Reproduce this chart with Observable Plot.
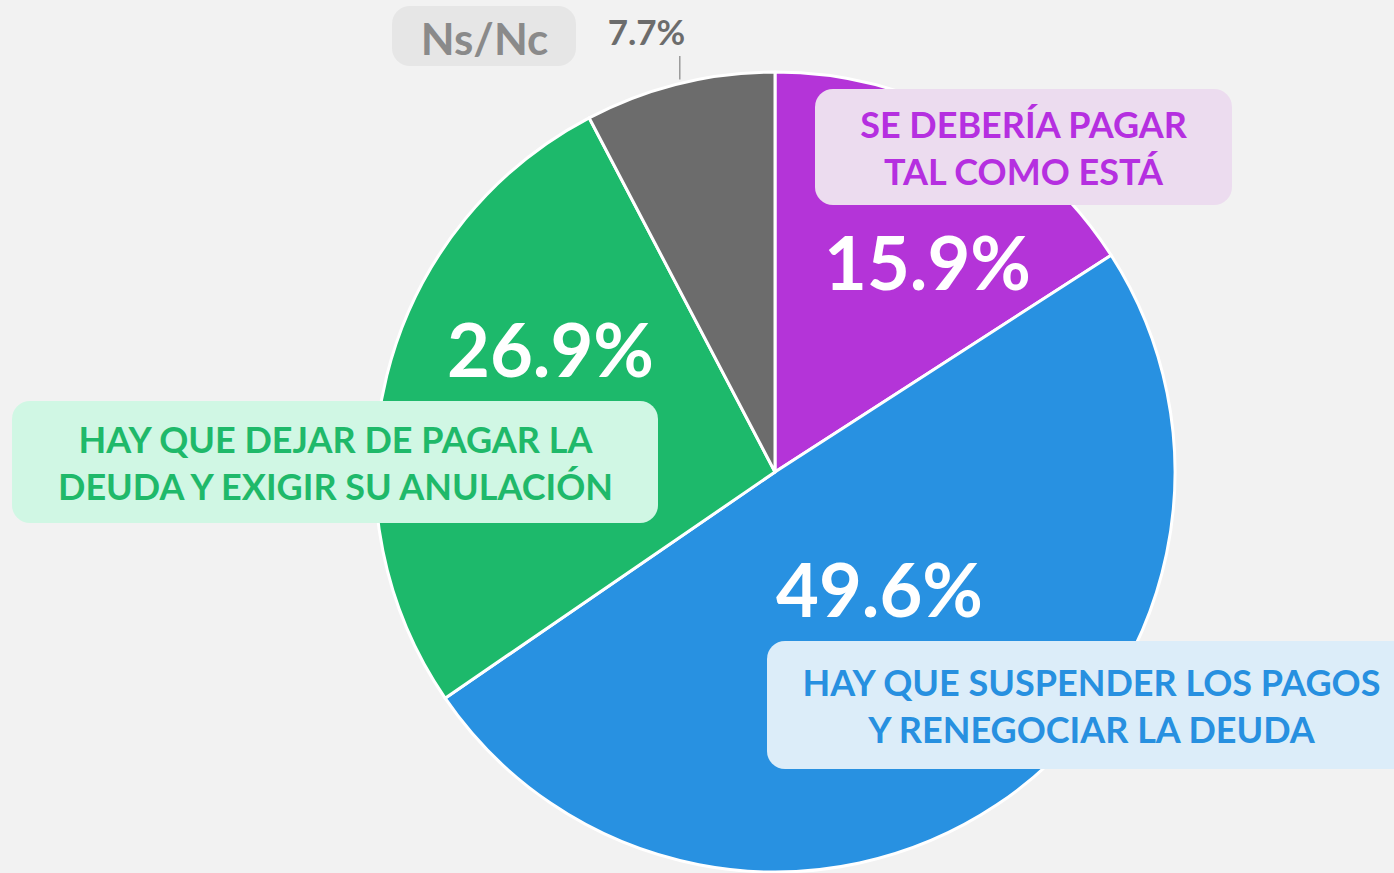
<!DOCTYPE html>
<html>
<head>
<meta charset="utf-8">
<script src="https://cdn.jsdelivr.net/npm/d3@7"></script>
<script src="https://cdn.jsdelivr.net/npm/@observablehq/plot@0.6"></script>
<style>
  html, body { margin: 0; padding: 0; background: #f2f2f2; }
  #chart svg { display: block; }
</style>
</head>
<body>
<div id="chart"></div>
<script>
// ---- data ----
const categories = [
  "SE DEBERÍA PAGAR\nTAL COMO ESTÁ",
  "HAY QUE SUSPENDER LOS PAGOS\nY RENEGOCIAR LA DEUDA",
  "HAY QUE DEJAR DE PAGAR LA\nDEUDA Y EXIGIR SU ANULACIÓN",
  "Ns/Nc"
];
const values = [15.9, 49.6, 26.9, 7.7];
const valueLabels = ["15.9%", "49.6%", "26.9%", "7.7%"];

// ---- styles ----
const sliceColors = ["#b434d8", "#2891e1", "#1db96b", "#6c6c6c"];
const boxFills = ["#ecdcef", "#dcedf9", "#d0f7e4", "#e6e6e6"];
const textColors = ["#b52fe0", "#2790e0", "#1fb96a", "#8a8a8a"];

// ---- layout (pixel space) ----
const pie = {cx: 775, cy: 472, r: 400};
const boxLayout = [
  {x1: 815, x2: 1232, y1: 89, y2: 205, tx: 1023, ty: 146, size: 36, rx: 18},
  {x1: 767, x2: 1410, y1: 641, y2: 769, tx: 1091, ty: 704, size: 36, rx: 18},
  {x1: 12, x2: 658, y1: 401, y2: 523, tx: 335, ty: 461, size: 36, rx: 18},
  {x1: 392, x2: 576, y1: 6, y2: 66, tx: 484, ty: 36, size: 44, rx: 10}
];
const valueLayout = [
  {x: 927, y: 266, size: 74, fill: "#ffffff"},
  {x: 879, y: 593, size: 74, fill: "#ffffff"},
  {x: 550, y: 353, size: 74, fill: "#ffffff"},
  {x: 646, y: 33, size: 35, fill: "#6c6c6c"}
];

const rows = categories.map((c, i) => ({
  category: c, value: values[i], valueLabel: valueLabels[i],
  ...boxLayout[i], vx: valueLayout[i].x, vy: valueLayout[i].y,
  vsize: valueLayout[i].size, vfill: valueLayout[i].fill,
  boxFill: boxFills[i], textColor: textColors[i]
}));

const arcs = d3.pie().sort(null).value(d => d.value)(rows);

// leader line for the small slice: from its outer edge (mid-angle) up to the label
const small = arcs[3];
const midA = (small.startAngle + small.endAngle) / 2;
const leader = [{
  x: pie.cx + pie.r * Math.sin(midA),
  y1: pie.cy - pie.r * Math.cos(midA) - 4,
  y2: 56
}];

function pieMark(index, scales) {
  const cx = scales.x(pie.cx), cy = scales.y(pie.cy);
  const r = Math.abs(scales.x(pie.cx + pie.r) - cx);
  const arc = d3.arc().innerRadius(0).outerRadius(r);
  const g = d3.create("svg:g").attr("transform", `translate(${cx},${cy})`);
  g.selectAll("path")
    .data(arcs)
    .join("path")
    .attr("d", arc)
    .attr("fill", (d, i) => scales.color ? scales.color(d.data.category) : sliceColors[i])
    .attr("stroke", "#ffffff")
    .attr("stroke-width", 3)
    .attr("stroke-linejoin", "round");
  return g.node();
}

const chart = Plot.plot({
  width: 1394,
  height: 873,
  margin: 0,
  x: {domain: [0, 1394], range: [0, 1394], axis: null},
  y: {domain: [0, 873], range: [0, 873], axis: null},
  color: {domain: categories, range: sliceColors},
  style: {background: "#f2f2f2", fontFamily: "Lato, 'Open Sans', sans-serif", overflow: "visible"},
  marks: [
    pieMark,
    Plot.rect(rows, {x1: "x1", x2: "x2", y1: "y1", y2: "y2", fill: "boxFill", rx: 18, ry: 18, inset: 0}),
    Plot.text(rows, {
      x: "tx", y: "ty", text: "category", fill: "textColor",
      fontSize: d => d.size, fontWeight: 700, lineHeight: 1.3, textAnchor: "middle"
    }),
    Plot.text(rows, {
      x: "vx", y: "vy", text: "valueLabel", fill: "vfill",
      fontSize: d => d.vsize, fontWeight: 700, textAnchor: "middle"
    }),
    Plot.ruleX(leader, {x: "x", y1: "y1", y2: "y2", stroke: "#9a9a9a", strokeWidth: 1.5})
  ]
});

document.getElementById("chart").appendChild(chart);
</script>
</body>
</html>
